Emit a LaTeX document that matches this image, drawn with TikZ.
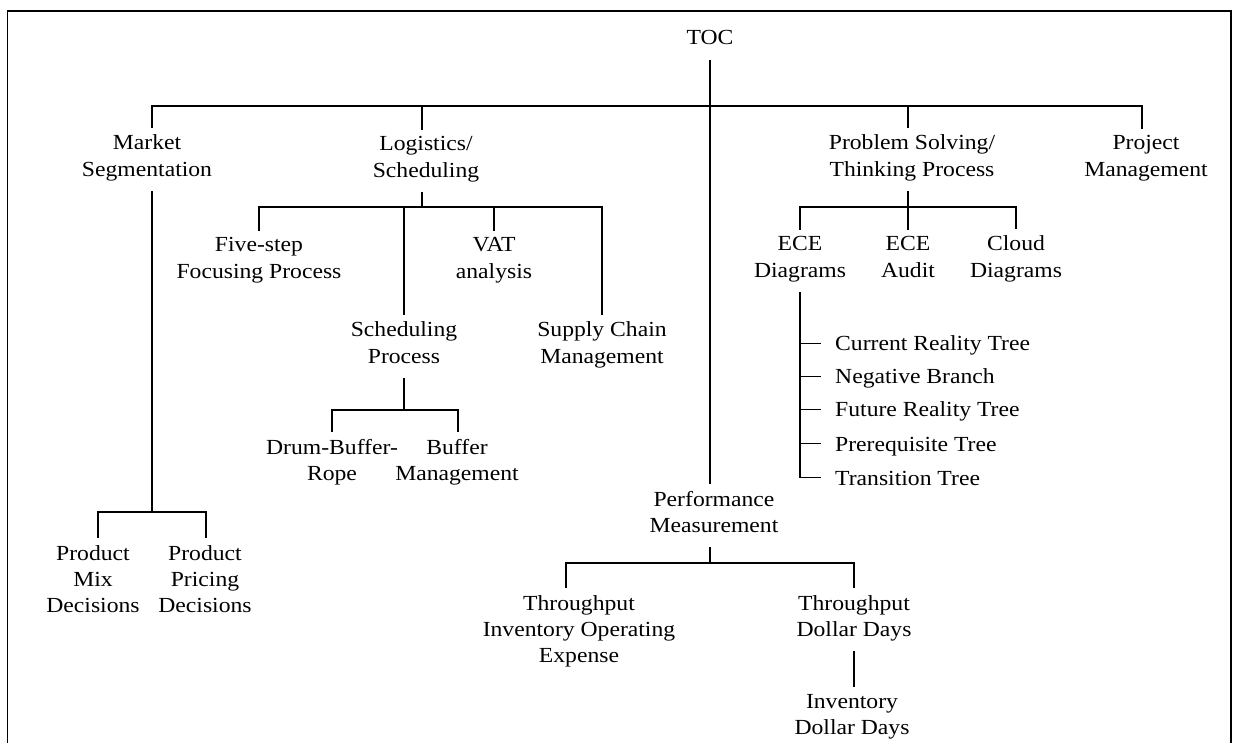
\documentclass[tikz,border=0pt]{standalone}
\usepackage{fontspec}
\setmainfont{Liberation Serif}[FakeStretch=1.1]
\begin{document}
\begin{tikzpicture}[x=1pt,y=-1pt,
  lbl/.style={align=center, font=\fontsize{21.5}{26.3}\selectfont,
    inner xsep=0pt, inner ysep=7.5pt, anchor=base,
    execute at begin node=\strut, execute at end node=\strut},
  item/.style={font=\fontsize{21.5}{26.3}\selectfont,
    inner xsep=15pt, inner ysep=0pt, anchor=base west},
  link/.style={line width=1.2pt, line cap=rect}]
\useasboundingbox (0,0) rectangle (1235,743);
% frame, open at the bottom
\draw[line width=1.2pt] (7.5,743) -- (7.5,11) -- (1231,11) -- (1231,743);

% labels (placed at the baseline of their last line)
\node[lbl] (toc) at (710,45) {TOC};
\node[lbl] (ms)  at (147,176.3) {Market\\Segmentation};
\node[lbl] (ls)  at (426,177.3) {Logistics/\\Scheduling};
\node[lbl] (ps)  at (912,176.3) {Problem Solving/\\Thinking Process};
\node[lbl] (pm)  at (1146,176.3) {Project\\Management};
\node[lbl] (fs)  at (259,278.3) {Five-step\\Focusing Process};
\node[lbl] (vat) at (494,278.3) {VAT\\analysis};
\node[lbl] (sp)  at (404,363.3) {Scheduling\\Process};
\node[lbl] (sc)  at (602,363.3) {Supply Chain\\Management};
\node[lbl] (dbr) at (332,480.3) {Drum-Buffer-\\Rope};
\node[lbl] (bm)  at (457,480.3) {Buffer\\Management};
\node[lbl] (ece) at (800,277.3) {ECE\\Diagrams};
\node[lbl] (eca) at (908,277.3) {ECE\\Audit};
\node[lbl] (cd)  at (1016,277.3) {Cloud\\Diagrams};
\node[lbl] (perf) at (714,532.3) {Performance\\Measurement};
\node[lbl] (tioe) at (579,662.6) {Throughput\\Inventory Operating\\Expense};
\node[lbl] (tdd) at (854,636.3) {Throughput\\Dollar Days};
\node[lbl] (idd) at (852,734.3) {Inventory\\Dollar Days};
\node[lbl] (pmd) at (93,612.6) {Product\\Mix\\Decisions};
\node[lbl] (ppd) at (205,612.6) {Product\\Pricing\\Decisions};

\node[item] (crt) at (820,351) {Current Reality Tree};
\node[item] (nb)  at (820,384) {Negative Branch};
\node[item] (frt) at (820,417) {Future Reality Tree};
\node[item] (pt)  at (820,451) {Prerequisite Tree};
\node[item] (tt)  at (820,485) {Transition Tree};

% junctions
\coordinate (jms) at (152,106);
\coordinate (jls) at (422,106);
\coordinate (jps) at (908,106);
\coordinate (jpm) at (1142,106);
\coordinate (jfs) at (259,207);
\coordinate (jsp) at (404,207);
\coordinate (jvat) at (494,207);
\coordinate (jsc) at (602,207);
\coordinate (jdbr) at (332,410);
\coordinate (jbm) at (458,410);
\coordinate (jece) at (800,207);
\coordinate (jeca) at (908,207);
\coordinate (jcd) at (1016,207);
\coordinate (jpmd) at (98,512);
\coordinate (jppd) at (206,512);
\coordinate (jtioe) at (566,563);
\coordinate (jtdd) at (854,563);
\coordinate (t1) at (800,343.5);
\coordinate (t2) at (800,376.5);
\coordinate (t3) at (800,409.5);
\coordinate (t4) at (800,443.5);
\coordinate (t5) at (800,477.5);

% TOC trunk and first level
\draw[link] (toc.south) -- (toc.south |- perf.north);
\draw[link] (jms) -- (jpm);
\draw[link] (jms) -- (jms |- ms.north);
\draw[link] (jls) -- (jls |- ls.north);
\draw[link] (jps) -- (jps |- ps.north);
\draw[link] (jpm) -- (jpm |- pm.north);

% market segmentation
\draw[link] (jms |- ms.south) -- (jms |- jpmd);
\draw[link] (jpmd) -- (jppd);
\draw[link] (jpmd) -- (jpmd |- pmd.north);
\draw[link] (jppd) -- (jppd |- ppd.north);

% logistics / scheduling
\draw[link] (jls |- ls.south) -- (jls |- jfs);
\draw[link] (jfs) -- (jsc);
\draw[link] (jfs) -- (jfs |- fs.north);
\draw[link] (jsp) -- (sp.north);
\draw[link] (jvat) -- (jvat |- vat.north);
\draw[link] (jsc) -- (jsc |- sc.north);
\draw[link] (sp.south) -- (sp.south |- jdbr);
\draw[link] (jdbr) -- (jbm);
\draw[link] (jdbr) -- (jdbr |- dbr.north);
\draw[link] (jbm) -- (jbm |- bm.north);

% problem solving / thinking process
\draw[link] (jps |- ps.south) -- (jps |- jece);
\draw[link] (jece) -- (jcd);
\draw[link] (jece) -- (ece.north);
\draw[link] (jeca) -- (jeca |- eca.north);
\draw[link] (jcd) -- (cd.north);
\draw[link] (ece.south) -- (t5);
\draw[link] (t1) -- (t1 -| crt.west);
\draw[link] (t2) -- (t2 -| nb.west);
\draw[link] (t3) -- (t3 -| frt.west);
\draw[link] (t4) -- (t4 -| pt.west);
\draw[link] (t5) -- (t5 -| tt.west);

% performance measurement
\draw[link] (toc.south |- perf.south) -- (toc.south |- jtioe);
\draw[link] (jtioe) -- (jtdd);
\draw[link] (jtioe) -- (jtioe |- tioe.north);
\draw[link] (jtdd) -- (tdd.north);
\draw[link] (tdd.south) -- (tdd.south |- idd.north);
\end{tikzpicture}
\end{document}
